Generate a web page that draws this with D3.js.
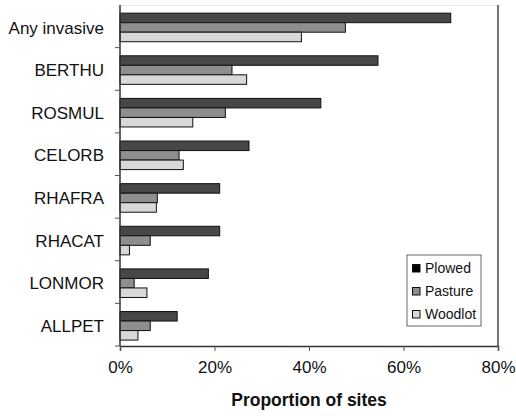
<!DOCTYPE html>
<html>
<head>
<meta charset="utf-8">
<script src="https://cdn.jsdelivr.net/npm/d3@7"></script>
<style>
  html, body { margin: 0; padding: 0; background: #fff; }
  text { font-family: Arial, "Liberation Sans", sans-serif; }
</style>
</head>
<body>
<svg id="chart" width="516" height="416"></svg>
<script>
const categories = ["Any invasive", "BERTHU", "ROSMUL", "CELORB", "RHAFRA", "RHACAT", "LONMOR", "ALLPET"];
const seriesNames = ["Plowed", "Pasture", "Woodlot"];
const plowed  = [0.70, 0.546, 0.425, 0.273, 0.211, 0.211, 0.187, 0.121];
const pasture = [0.477, 0.237, 0.223, 0.125, 0.079, 0.064, 0.030, 0.064];
const woodlot = [0.384, 0.268, 0.154, 0.134, 0.077, 0.020, 0.057, 0.038];
const xTicks = [0, 0.2, 0.4, 0.6, 0.8];
const xTitle = "Proportion of sites";

const series = [plowed, pasture, woodlot];
const fills = ["#474747", "#8e8e8e", "#d8d8d8"];
const legendFills = ["#000000", "#8e8e8e", "#d8d8d8"];

const svg = d3.select("#chart");
const mLeft = 120, mRight = 498, mTop = 5, mBottom = 346;

const x = d3.scaleLinear().domain([0, 0.8]).range([mLeft, mRight]);
const y = d3.scaleBand().domain(categories).range([mTop, mBottom])
  .paddingInner(0.33).paddingOuter(0.165).align(0.58);
const ySub = d3.scaleBand().domain(d3.range(3)).range([0, y.bandwidth()]);

// top faint border
svg.append("line").attr("x1", mLeft).attr("x2", mRight).attr("y1", mTop + 0.5).attr("y2", mTop + 0.5)
  .attr("stroke", "#e6e6e6").attr("stroke-width", 1);
// right border
svg.append("line").attr("x1", mRight).attr("x2", mRight).attr("y1", mTop).attr("y2", mBottom)
  .attr("stroke", "#444").attr("stroke-width", 1.5);

// bars
categories.forEach((c, i) => {
  series.forEach((s, j) => {
    svg.append("rect")
      .attr("x", x(0))
      .attr("y", y(c) + ySub(j))
      .attr("width", x(s[i]) - x(0))
      .attr("height", ySub.bandwidth())
      .attr("fill", fills[j])
      .attr("stroke", "#111")
      .attr("stroke-width", 1);
  });
});

// y axis line and ticks at band boundaries
svg.append("line").attr("x1", mLeft).attr("x2", mLeft).attr("y1", mTop).attr("y2", mBottom)
  .attr("stroke", "#333").attr("stroke-width", 1.5);
d3.range(1, categories.length + 1).forEach(k => {
  const yy = mTop + k * (mBottom - mTop) / categories.length;
  svg.append("line").attr("x1", mLeft - 5).attr("x2", mLeft).attr("y1", yy).attr("y2", yy)
    .attr("stroke", "#555").attr("stroke-width", 1);
});
// category labels
svg.selectAll("text.cat").data(categories).enter().append("text")
  .attr("class", "cat")
  .attr("x", 104)
  .attr("y", d => y(d) + y.bandwidth() / 2)
  .attr("dy", "0.36em")
  .attr("text-anchor", "end")
  .attr("font-size", "17px")
  .attr("fill", "#111")
  .text(d => d);

// x axis
const xAxis = d3.axisBottom(x).tickValues(xTicks).tickFormat(d3.format(".0%")).tickSize(5).tickPadding(10);
const gx = svg.append("g").attr("transform", `translate(0,${mBottom})`).call(xAxis);
gx.select(".domain").attr("stroke", "#333").attr("stroke-width", 1.5);
gx.selectAll(".tick line").attr("stroke", "#555");
gx.selectAll(".tick text").attr("font-size", "17px").attr("fill", "#111")
  .attr("font-family", "Arial, 'Liberation Sans', sans-serif");

svg.append("text").attr("x", (mLeft + mRight) / 2).attr("y", 406)
  .attr("text-anchor", "middle").attr("font-size", "17.5px").attr("font-weight", "bold")
  .attr("fill", "#111").text(xTitle);

// legend
const lg = svg.append("g").attr("transform", "translate(407,255)");
lg.append("rect").attr("x", 0).attr("y", 0).attr("width", 74).attr("height", 71)
  .attr("fill", "#fff").attr("stroke", "#666").attr("stroke-width", 1);
seriesNames.forEach((n, j) => {
  const cy = 13 + j * 23;
  lg.append("rect").attr("x", 5.5).attr("y", cy - 3.5).attr("width", 7.5).attr("height", 7.5)
    .attr("fill", legendFills[j]).attr("stroke", "#111").attr("stroke-width", 1);
  lg.append("text").attr("x", 18).attr("y", cy).attr("dy", "0.36em")
    .attr("font-size", "14px").attr("fill", "#111").text(n);
});
</script>
</body>
</html>
